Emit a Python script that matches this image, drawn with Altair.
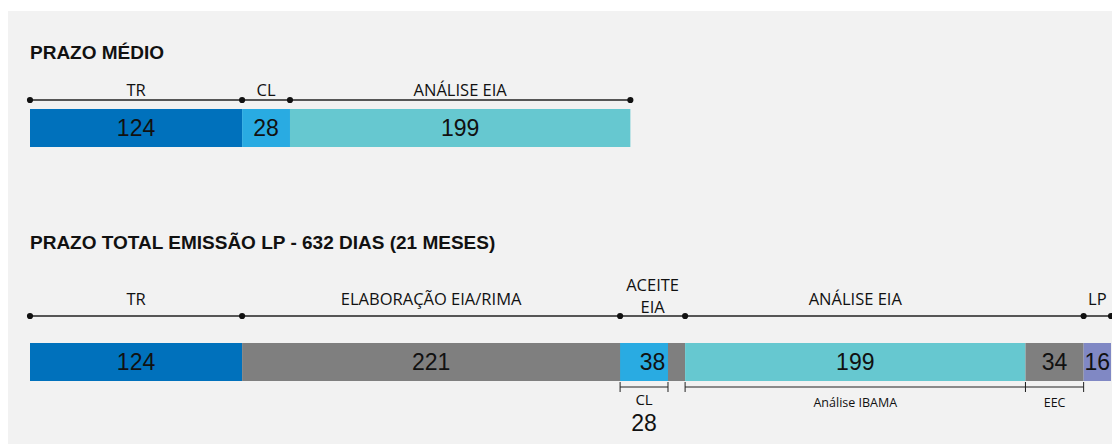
import altair as alt
import pandas as pd

# ---------------- data ----------------
title_top = "PRAZO MÉDIO"
title_bottom = "PRAZO TOTAL EMISSÃO LP - 632 DIAS (21 MESES)"

top_labels = ["TR", "CL", "ANÁLISE EIA"]
top_days = [124, 28, 199]
top_colors = ["#0071bc", "#29abe2", "#66c8d0"]

bot_top_labels = ["TR", "ELABORAÇÃO EIA/RIMA", "ACEITE\nEIA", "ANÁLISE EIA", "", "LP"]
bot_days = [124, 221, 38, 199, 34, 16]
bot_colors = ["#0071bc", "#7f7f7f", "#7f7f7f", "#66c8d0", "#7f7f7f", "#8088c4"]

cl_days = 28            # CL part inside "ACEITE EIA"
cl_color = "#29abe2"
bot_under_labels = ["", "", "CL", "Análise IBAMA", "EEC", ""]

total_days = 632

# ---------------- helpers ----------------
def cumulate(days):
    starts, ends, s = [], [], 0
    for d in days:
        starts.append(s)
        ends.append(s + d)
        s += d
    return starts, ends

ts, te = cumulate(top_days)
top_df = pd.DataFrame({"label": top_labels, "days": top_days, "color": top_colors,
                       "start": ts, "end": te})
top_df["mid"] = (top_df["start"] + top_df["end"]) / 2
top_df["val"] = top_df["days"].astype(str)

bs, be = cumulate(bot_days)
bot_df = pd.DataFrame({"label": bot_top_labels, "days": bot_days, "color": bot_colors,
                       "start": bs, "end": be, "under": bot_under_labels})
bot_df["mid"] = (bot_df["start"] + bot_df["end"]) / 2
bot_df["val"] = bot_df["days"].astype(str)
bot_single = bot_df[(bot_df["label"] != "") & (~bot_df["label"].str.contains("\n"))]
bot_multi = bot_df[bot_df["label"].str.contains("\n")]

# CL overlay inside aceite segment
ace_start = bot_df.loc[2, "start"]
cl_df = pd.DataFrame({"start": [ace_start], "end": [ace_start + cl_days], "color": [cl_color]})

# brackets under the bottom bar
br_rows = []
for _, r in bot_df.iterrows():
    if r["under"]:
        if r["under"] == "CL":
            br_rows.append({"start": r["start"], "end": r["start"] + cl_days, "label": "CL"})
        else:
            br_rows.append({"start": r["start"], "end": r["end"], "label": r["under"]})
br_df = pd.DataFrame(br_rows)
br_df["mid"] = (br_df["start"] + br_df["end"]) / 2
br_ticks = pd.DataFrame({"x": list(br_df["start"]) + list(br_df["end"])})
cl_value_df = br_df[br_df["label"] == "CL"].assign(val=str(cl_days))
br_small = br_df[br_df["label"] != "CL"]
br_cl = br_df[br_df["label"] == "CL"]

# dots on phase lines
top_dots = pd.DataFrame({"x": ts + [te[-1]]})
bot_dots = pd.DataFrame({"x": [s for s, l in zip(bs, bot_top_labels) if l] + [be[-1]]})
top_line = pd.DataFrame({"start": [0], "end": [te[-1]]})
bot_line = pd.DataFrame({"start": [0], "end": [total_days]})

xs = alt.Scale(domain=[0, total_days], range=[22, 1103])
X = lambda f: alt.X(f, scale=xs, axis=None)

W, H = 1104, 436
one = pd.DataFrame({"a": [0]})

LABEL_FONT = "Open Sans"
NUM_FONT = "Liberation Sans"
INK = "#111111"

bg = alt.Chart(one).mark_rect(color="#f2f2f2").encode(
    x=alt.value(-1), x2=alt.value(W + 2), y=alt.value(3), y2=alt.value(H + 2))

t1 = alt.Chart(pd.DataFrame({"t": [title_top]})).mark_text(
    align="left", baseline="alphabetic", font=NUM_FONT, fontWeight="bold", fontSize=19,
    color=INK).encode(x=alt.value(22), y=alt.value(51), text="t:N")
t2 = alt.Chart(pd.DataFrame({"t": [title_bottom]})).mark_text(
    align="left", baseline="alphabetic", font=NUM_FONT, fontWeight="bold", fontSize=19,
    color=INK).encode(x=alt.value(22), y=alt.value(241), text="t:N")

# ---- top section ----
top_bars = alt.Chart(top_df).mark_rect().encode(
    x=X("start:Q"), x2="end:Q", y=alt.value(101), y2=alt.value(139),
    color=alt.Color("color:N", scale=None))
top_vals = alt.Chart(top_df).mark_text(font=NUM_FONT, fontSize=23, color=INK,
                                       baseline="middle").encode(
    x=X("mid:Q"), y=alt.value(121), text="val:N")
top_lbls = alt.Chart(top_df).mark_text(font=LABEL_FONT, fontSize=16.5, color=INK,
                                       baseline="alphabetic").encode(
    x=X("mid:Q"), y=alt.value(88), text="label:N")
top_rule = alt.Chart(top_line).mark_rule(color="#222222", strokeWidth=1.3).encode(
    x=X("start:Q"), x2="end:Q", y=alt.value(92))
top_pts = alt.Chart(top_dots).mark_point(filled=True, size=38, color=INK, opacity=1).encode(
    x=X("x:Q"), y=alt.value(92))

# ---- bottom section ----
bot_bars = alt.Chart(bot_df).mark_rect().encode(
    x=X("start:Q"), x2="end:Q", y=alt.value(335), y2=alt.value(373),
    color=alt.Color("color:N", scale=None))
cl_bar = alt.Chart(cl_df).mark_rect().encode(
    x=X("start:Q"), x2="end:Q", y=alt.value(335), y2=alt.value(373),
    color=alt.Color("color:N", scale=None))
bot_vals = alt.Chart(bot_df).mark_text(font=NUM_FONT, fontSize=23, color=INK,
                                       baseline="middle").encode(
    x=X("mid:Q"), y=alt.value(355), text="val:N")
bot_lbls = alt.Chart(bot_single).mark_text(font=LABEL_FONT, fontSize=16.5, color=INK,
                                           baseline="alphabetic").encode(
    x=X("mid:Q"), y=alt.value(297), text="label:N")
bot_lbls2 = alt.Chart(bot_multi).mark_text(font=LABEL_FONT, fontSize=16.5, color=INK,
                                           baseline="alphabetic", lineBreak="\n",
                                           lineHeight=22).encode(
    x=X("mid:Q"), y=alt.value(283), text="label:N")
bot_rule = alt.Chart(bot_line).mark_rule(color="#222222", strokeWidth=1.3).encode(
    x=X("start:Q"), x2="end:Q", y=alt.value(308))
bot_pts = alt.Chart(bot_dots).mark_point(filled=True, size=38, color=INK, opacity=1).encode(
    x=X("x:Q"), y=alt.value(308))

br_h = alt.Chart(br_df).mark_rule(color="#222222", strokeWidth=1).encode(
    x=X("start:Q"), x2="end:Q", y=alt.value(379))
br_v = alt.Chart(br_ticks).mark_rule(color="#222222", strokeWidth=1).encode(
    x=X("x:Q"), y=alt.value(374), y2=alt.value(384))
br_txt = alt.Chart(br_small).mark_text(font=LABEL_FONT, fontSize=12.5, color=INK,
                                       baseline="alphabetic").encode(
    x=X("mid:Q"), y=alt.value(399), text="label:N")
br_cl_txt = alt.Chart(br_cl).mark_text(font=LABEL_FONT, fontSize=15, color=INK,
                                       baseline="alphabetic").encode(
    x=X("mid:Q"), y=alt.value(397), text="label:N")
cl_val = alt.Chart(cl_value_df).mark_text(font=NUM_FONT, fontSize=23, color=INK,
                                          baseline="alphabetic").encode(
    x=X("mid:Q"), y=alt.value(423), text="val:N")

chart = alt.layer(
    bg, t1, t2,
    top_bars, top_vals, top_lbls, top_rule, top_pts,
    bot_bars, cl_bar, bot_vals, bot_lbls, bot_lbls2, bot_rule, bot_pts,
    br_h, br_v, br_txt, br_cl_txt, cl_val,
).properties(
    width=W, height=H, autosize=alt.AutoSizeParams(type="none"), padding=0,
    background="white",
).configure_view(stroke=None)

chart.save("out.html", embed_options={"renderer": "svg", "actions": False})
